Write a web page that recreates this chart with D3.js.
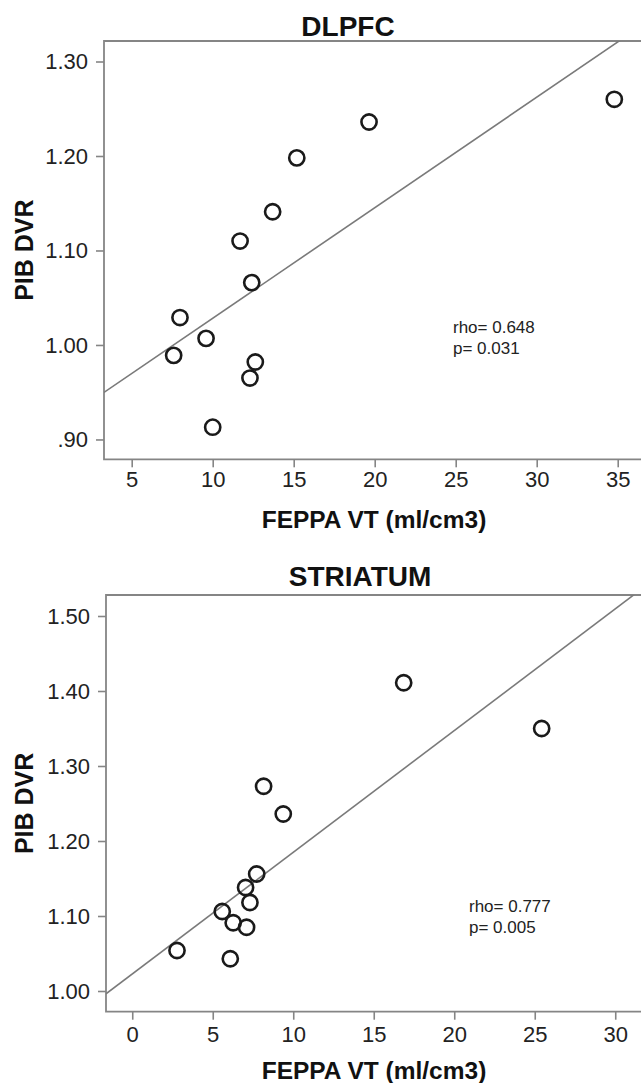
<!DOCTYPE html>
<html><head><meta charset="utf-8">
<script src="https://cdn.jsdelivr.net/npm/d3@7"></script>
<style>
html,body{margin:0;padding:0;background:#fff;}
svg{display:block;}
text{font-family:"Liberation Sans",Arial,sans-serif;}
</style></head>
<body>
<svg id="c" width="641" height="1083"></svg>
<script>
// ---- data ----
const dlpfcX = [34.79, 19.65, 15.19, 13.70, 11.69, 12.41, 7.98, 9.59, 7.59, 12.63, 12.30, 10.00];
const dlpfcY = [1.260, 1.236, 1.198, 1.141, 1.110, 1.066, 1.029, 1.007, 0.989, 0.982, 0.965, 0.913];
const dlpfcFit = [0.9113, 0.011696]; // intercept, slope
const dlpfcXTicks = [5, 10, 15, 20, 25, 30, 35];
const dlpfcYTicks = [0.90, 1.00, 1.10, 1.20, 1.30];
const dlpfcStats = ["rho= 0.648", "p= 0.031"];

const striX = [16.86, 25.43, 8.16, 9.38, 7.73, 7.04, 7.31, 5.59, 6.27, 7.10, 2.78, 6.09];
const striY = [1.411, 1.350, 1.273, 1.236, 1.156, 1.138, 1.118, 1.106, 1.091, 1.085, 1.054, 1.043];
const striFit = [1.0227, 0.016227];
const striXTicks = [0, 5, 10, 15, 20, 25, 30];
const striYTicks = [1.00, 1.10, 1.20, 1.30, 1.40, 1.50];
const striStats = ["rho= 0.777", "p= 0.005"];

const titles = ["DLPFC", "STRIATUM"];
const xLabel = "FEPPA VT (ml/cm3)";
const yLabel = "PIB DVR";

const svg = d3.select("#c");
const fmtY = d => { const s = d3.format(".2f")(d); return d < 1 ? s.replace(/^0/, "") : s; };

function panel(cfg, idx) {
  const {xs, ys, fit, xTicks, yTicks, stats, xDom, yDom, left, right, top, bottom,
         titleY, xLabY, yLabX, statX, statY, xPad} = cfg;
  const x = d3.scaleLinear().domain(xDom).range([left, right]);
  const y = d3.scaleLinear().domain(yDom).range([bottom, top]);
  const g = svg.append("g");
  const clipId = "clip" + idx;
  svg.append("clipPath").attr("id", clipId).append("rect")
    .attr("x", left).attr("y", top).attr("width", right - left).attr("height", bottom - top);

  // frame
  g.append("path")
    .attr("d", `M${right + 5},${top}H${left}V${bottom}H${right + 5}`)
    .attr("fill", "none").attr("stroke", "#858585").attr("stroke-width", 1.8);

  // axes
  const ax = g.append("g").attr("transform", `translate(0,${bottom})`)
    .call(d3.axisBottom(x).tickValues(xTicks).tickSize(8).tickPadding(xPad).tickFormat(d3.format("d")));
  const ay = g.append("g").attr("transform", `translate(${left},0)`)
    .call(d3.axisLeft(y).tickValues(yTicks).tickSize(8).tickPadding(8).tickFormat(fmtY));
  [ax, ay].forEach(a => {
    a.select(".domain").remove();
    a.selectAll(".tick line").attr("stroke", "#858585").attr("stroke-width", 1.6);
    a.selectAll(".tick text").attr("fill", "#222").style("font-size", "22px")
      .style("font-family", '"Liberation Sans",Arial,sans-serif');
  });

  // regression line
  const x0 = xDom[0], x1 = xDom[1];
  g.append("line").attr("clip-path", `url(#${clipId})`)
    .attr("x1", x(x0)).attr("y1", y(fit[0] + fit[1] * x0))
    .attr("x2", x(x1)).attr("y2", y(fit[0] + fit[1] * x1))
    .attr("stroke", "#7a7a7a").attr("stroke-width", 1.6);

  // points
  g.selectAll("circle.p").data(xs.map((v, i) => [v, ys[i]])).join("circle")
    .attr("class", "p")
    .attr("cx", d => x(d[0])).attr("cy", d => y(d[1])).attr("r", 7.6)
    .attr("fill", "none").attr("stroke", "#1a1a1a").attr("stroke-width", 2.6);

  // stats
  g.selectAll("text.st").data(stats).join("text").attr("class", "st")
    .attr("x", statX).attr("y", (d, i) => statY + i * 21)
    .attr("fill", "#222").style("font-size", "17px").text(d => d);

  // title
  g.append("text").attr("x", cfg.titleX).attr("y", titleY).attr("text-anchor", "middle")
    .style("font-size", "28px").style("font-weight", "bold").attr("fill", "#111").text(titles[idx]);
  // x label
  g.append("text").attr("x", 374).attr("y", xLabY).attr("text-anchor", "middle")
    .style("font-size", "24.5px").style("font-weight", "bold").attr("fill", "#111").text(xLabel);
  // y label
  g.append("text").attr("transform", `translate(${yLabX},${(top + bottom) / 2}) rotate(-90)`)
    .attr("text-anchor", "middle")
    .style("font-size", "25px").style("font-weight", "bold").attr("fill", "#111").text(yLabel);
}

panel({xs: dlpfcX, ys: dlpfcY, fit: dlpfcFit, xTicks: dlpfcXTicks, yTicks: dlpfcYTicks, stats: dlpfcStats,
  xDom: [3.29, 36.45], yDom: [0.879, 1.3217], left: 104, right: 641.2, top: 41, bottom: 459.3,
  titleX: 348, titleY: 36, xLabY: 528, yLabX: 32.5, statX: 453, statY: 333, xPad: 4}, 0);

panel({xs: striX, ys: striY, fit: striFit, xTicks: striXTicks, yTicks: striYTicks, stats: striStats,
  xDom: [-1.63, 31.6], yDom: [0.9724, 1.528], left: 106, right: 641, top: 595, bottom: 1011.7,
  titleX: 360, titleY: 585.5, xLabY: 1079, yLabX: 32.5, statX: 469, statY: 911.5, xPad: 7}, 1);
</script>
</body></html>
